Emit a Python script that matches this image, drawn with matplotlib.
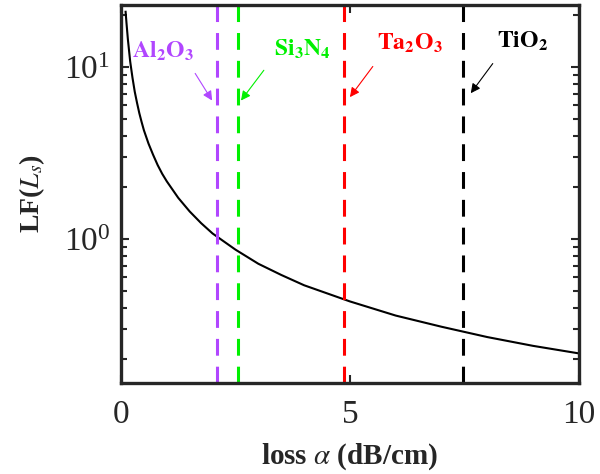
import matplotlib
matplotlib.use("Agg")
import matplotlib.pyplot as plt
import numpy as np

plt.rcParams["font.family"] = "serif"
plt.rcParams["font.serif"] = ["Liberation Serif", "DejaVu Serif"]
plt.rcParams["mathtext.fontset"] = "stix"

# curve
loss = [0.1, 0.12, 0.15, 0.2, 0.25, 0.3, 0.35, 0.4, 0.45, 0.5, 0.6, 0.7, 0.8, 0.9,
        1.0, 1.25, 1.5, 1.75, 2.0, 2.5, 3.0, 3.5, 4.0, 5.0, 6.0, 7.0, 8.0, 9.0, 10.0]
lf = [21.0, 18.0, 14.5, 10.8, 8.7, 7.2, 6.2, 5.4, 4.8, 4.3, 3.6, 3.1, 2.7, 2.4,
      2.17, 1.74, 1.45, 1.24, 1.08, 0.87, 0.72, 0.62, 0.54, 0.435, 0.36, 0.31, 0.27, 0.24, 0.217]

# material losses (vertical dashed lines)
materials = [r"$\mathbf{Al_2O_3}$", r"$\mathbf{Si_3N_4}$", r"$\mathbf{Ta_2O_3}$", r"$\mathbf{TiO_2}$"]
mat_loss = [2.1, 2.55, 4.88, 7.48]
mat_colors = ["#B146FF", "#00F000", "#FF0000", "#000000"]
# label positions, arrow tails and arrow tips (data coords)
text_xy = [(0.92, 11.3), (3.97, 11.7), (6.31, 12.6), (8.78, 12.9)]
tail_xy = [(1.62, 9.2), (3.12, 9.6), (5.50, 10.1), (8.12, 10.5)]
tip_xy = [(1.99, 6.4), (2.62, 6.4), (5.0, 6.7), (7.64, 7.06)]

fig = plt.figure(figsize=(6, 4.74), dpi=100)
ax = fig.add_axes([0.2017, 0.192, 0.763, 0.7975])

ax.plot(loss, lf, color="black", lw=1.5)

for name, xv, c, txy, tail, tip in zip(materials, mat_loss, mat_colors, text_xy, tail_xy, tip_xy):
    ax.axvline(xv, color=c, lw=2.2, linestyle=(0, (5.5, 3.6)))
    ax.text(txy[0], txy[1], name, color=c, fontsize=17, ha="center", va="baseline")
    ax.annotate("", xy=tip, xytext=tail,
                arrowprops=dict(arrowstyle="-|>", color=c, lw=0.8,
                                shrinkA=0, shrinkB=0, mutation_scale=14))

ax.set_yscale("log")
ax.set_xlim(0, 10)
ax.set_ylim(0.146, 23)
ax.set_xticks([0, 5, 10])
ax.set_xticklabels(["0", "5", "10"])

dark = "#262626"
ax.tick_params(which="both", direction="in", top=True, right=True,
               colors=dark, labelsize=24, width=1.5)
ax.tick_params(which="major", length=6)
ax.tick_params(axis="x", which="major", pad=12)
ax.tick_params(axis="y", which="major", pad=8)
ax.tick_params(which="minor", length=4)
for s in ax.spines.values():
    s.set_linewidth(2.4)
    s.set_color(dark)

ax.set_xlabel(r"loss $\alpha$ (dB/cm)", fontsize=21, fontweight="bold", color=dark, labelpad=8)
ax.set_ylabel(r"LF($\boldsymbol{L_s}$)", fontsize=20, fontweight="bold", color=dark, labelpad=12)

fig.savefig("out.png", dpi=100)
